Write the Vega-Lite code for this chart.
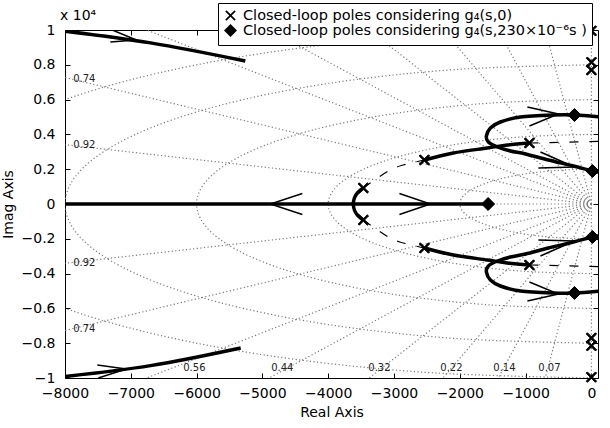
{
  "$schema": "https://vega.github.io/schema/vega-lite/v6.json",
  "width": 533,
  "height": 348,
  "autosize": {"type": "none"},
  "padding": {"left": 65, "top": 30, "right": 12, "bottom": 50},
  "config": {
    "font": "DejaVu Sans",
    "view": {"stroke": "black", "strokeWidth": 1},
    "axis": {"grid": false, "domain": false, "tickColor": "black", "tickSize": -5, "tickWidth": 1, "labelColor": "black", "labelFontSize": 14, "titleFontSize": 14, "titleFontWeight": "normal", "titleColor": "black", "labelFlush": false, "labelOverlap": false, "labelBound": false}
  },
  "title": {"text": "x 10⁴", "anchor": "start", "frame": "group", "offset": 7, "dx": -5, "dy": 27, "fontSize": 14, "fontWeight": "normal", "color": "black"},
  "datasets": {
    "circles": [
      {"id":"c2","i":0,"x":0,"y":2000},{"id":"c2","i":1,"x":-518,"y":1932},{"id":"c2","i":2,"x":-1000,"y":1732},{"id":"c2","i":3,"x":-1414,"y":1414},{"id":"c2","i":4,"x":-1732,"y":1000},{"id":"c2","i":5,"x":-1932,"y":518},{"id":"c2","i":6,"x":-2000,"y":0},{"id":"c2","i":7,"x":-1932,"y":-518},{"id":"c2","i":8,"x":-1732,"y":-1000},{"id":"c2","i":9,"x":-1414,"y":-1414},{"id":"c2","i":10,"x":-1000,"y":-1732},{"id":"c2","i":11,"x":-518,"y":-1932},{"id":"c2","i":12,"x":0,"y":-2000},
      {"id":"c4","i":0,"x":0,"y":4000},{"id":"c4","i":1,"x":-1035,"y":3864},{"id":"c4","i":2,"x":-2000,"y":3464},{"id":"c4","i":3,"x":-2828,"y":2828},{"id":"c4","i":4,"x":-3464,"y":2000},{"id":"c4","i":5,"x":-3864,"y":1035},{"id":"c4","i":6,"x":-4000,"y":0},{"id":"c4","i":7,"x":-3864,"y":-1035},{"id":"c4","i":8,"x":-3464,"y":-2000},{"id":"c4","i":9,"x":-2828,"y":-2828},{"id":"c4","i":10,"x":-2000,"y":-3464},{"id":"c4","i":11,"x":-1035,"y":-3864},{"id":"c4","i":12,"x":0,"y":-4000},
      {"id":"c6","i":0,"x":0,"y":6000},{"id":"c6","i":1,"x":-1553,"y":5796},{"id":"c6","i":2,"x":-3000,"y":5196},{"id":"c6","i":3,"x":-4243,"y":4243},{"id":"c6","i":4,"x":-5196,"y":3000},{"id":"c6","i":5,"x":-5796,"y":1553},{"id":"c6","i":6,"x":-6000,"y":0},{"id":"c6","i":7,"x":-5796,"y":-1553},{"id":"c6","i":8,"x":-5196,"y":-3000},{"id":"c6","i":9,"x":-4243,"y":-4243},{"id":"c6","i":10,"x":-3000,"y":-5196},{"id":"c6","i":11,"x":-1553,"y":-5796},{"id":"c6","i":12,"x":0,"y":-6000},
      {"id":"c8","i":0,"x":0,"y":8000},{"id":"c8","i":1,"x":-2071,"y":7727},{"id":"c8","i":2,"x":-4000,"y":6928},{"id":"c8","i":3,"x":-5657,"y":5657},{"id":"c8","i":4,"x":-6928,"y":4000},{"id":"c8","i":5,"x":-7727,"y":2071},{"id":"c8","i":6,"x":-8000,"y":0},{"id":"c8","i":7,"x":-7727,"y":-2071},{"id":"c8","i":8,"x":-6928,"y":-4000},{"id":"c8","i":9,"x":-5657,"y":-5657},{"id":"c8","i":10,"x":-4000,"y":-6928},{"id":"c8","i":11,"x":-2071,"y":-7727},{"id":"c8","i":12,"x":0,"y":-8000},
      {"id":"c10","i":0,"x":0,"y":10000},{"id":"c10","i":1,"x":-2588,"y":9659},{"id":"c10","i":2,"x":-5000,"y":8660},{"id":"c10","i":3,"x":-7071,"y":7071},{"id":"c10","i":4,"x":-8660,"y":5000},{"id":"c10","i":5,"x":-9659,"y":2588},{"id":"c10","i":6,"x":-10000,"y":0},{"id":"c10","i":7,"x":-9659,"y":-2588},{"id":"c10","i":8,"x":-8660,"y":-5000},{"id":"c10","i":9,"x":-7071,"y":-7071},{"id":"c10","i":10,"x":-5000,"y":-8660},{"id":"c10","i":11,"x":-2588,"y":-9659},{"id":"c10","i":12,"x":0,"y":-10000}
    ],
    "rays": [
      {"id":"z07p","i":0,"x":0,"y":0},{"id":"z07p","i":1,"x":-1750,"y":24939},
      {"id":"z07n","i":0,"x":0,"y":0},{"id":"z07n","i":1,"x":-1750,"y":-24939},
      {"id":"z14p","i":0,"x":0,"y":0},{"id":"z14p","i":1,"x":-3500,"y":24754},
      {"id":"z14n","i":0,"x":0,"y":0},{"id":"z14n","i":1,"x":-3500,"y":-24754},
      {"id":"z22p","i":0,"x":0,"y":0},{"id":"z22p","i":1,"x":-5500,"y":24387},
      {"id":"z22n","i":0,"x":0,"y":0},{"id":"z22n","i":1,"x":-5500,"y":-24387},
      {"id":"z32p","i":0,"x":0,"y":0},{"id":"z32p","i":1,"x":-8000,"y":23685},
      {"id":"z32n","i":0,"x":0,"y":0},{"id":"z32n","i":1,"x":-8000,"y":-23685},
      {"id":"z44p","i":0,"x":0,"y":0},{"id":"z44p","i":1,"x":-11000,"y":22450},
      {"id":"z44n","i":0,"x":0,"y":0},{"id":"z44n","i":1,"x":-11000,"y":-22450},
      {"id":"z56p","i":0,"x":0,"y":0},{"id":"z56p","i":1,"x":-14000,"y":20712},
      {"id":"z56n","i":0,"x":0,"y":0},{"id":"z56n","i":1,"x":-14000,"y":-20712},
      {"id":"z74p","i":0,"x":0,"y":0},{"id":"z74p","i":1,"x":-18500,"y":16815},
      {"id":"z74n","i":0,"x":0,"y":0},{"id":"z74n","i":1,"x":-18500,"y":-16815},
      {"id":"z92p","i":0,"x":0,"y":0},{"id":"z92p","i":1,"x":-23000,"y":9798},
      {"id":"z92n","i":0,"x":0,"y":0},{"id":"z92n","i":1,"x":-23000,"y":-9798},
      {"id":"z100","i":0,"x":0,"y":0},{"id":"z100","i":1,"x":-25000,"y":0},
      {"id":"z0p","i":0,"x":0,"y":0},{"id":"z0p","i":1,"x":0,"y":25000},
      {"id":"z0n","i":0,"x":0,"y":0},{"id":"z0n","i":1,"x":0,"y":-25000}
    ],
    "thick": [
      {"id":"t1a","i":0,"x":-8100,"y":9980},{"id":"t1a","i":1,"x":-6700,"y":9260},{"id":"t1a","i":2,"x":-5260,"y":8218},
      {"id":"t1b","i":0,"x":-8100,"y":-9960},{"id":"t1b","i":1,"x":-6700,"y":-9290},{"id":"t1b","i":2,"x":-5330,"y":-8276},
      {"id":"t2","i":0,"x":-8100,"y":0},{"id":"t2","i":1,"x":-1570,"y":0},
      {"id":"t3","i":0,"x":-3466,"y":920},{"id":"t3","i":1,"x":-3557,"y":632},{"id":"t3","i":2,"x":-3602,"y":345},{"id":"t3","i":3,"x":-3618,"y":0},{"id":"t3","i":4,"x":-3602,"y":-345},{"id":"t3","i":5,"x":-3557,"y":-632},{"id":"t3","i":6,"x":-3466,"y":-920},
      {"id":"t4u","i":0,"x":-2538,"y":2529},{"id":"t4u","i":1,"x":-2098,"y":2931},{"id":"t4u","i":2,"x":-1581,"y":3218},{"id":"t4u","i":3,"x":-1277,"y":3391},{"id":"t4u","i":4,"x":-942,"y":3506},
      {"id":"t4d","i":0,"x":-2538,"y":-2529},{"id":"t4d","i":1,"x":-2098,"y":-2931},{"id":"t4d","i":2,"x":-1581,"y":-3218},{"id":"t4d","i":3,"x":-1277,"y":-3391},{"id":"t4d","i":4,"x":-942,"y":-3506},
      {"id":"t5u","i":0,"x":137,"y":5000},{"id":"t5u","i":1,"x":-258,"y":5115},{"id":"t5u","i":2,"x":-578,"y":5115},{"id":"t5u","i":3,"x":-1079,"y":5000},{"id":"t5u","i":4,"x":-1383,"y":4713},{"id":"t5u","i":5,"x":-1535,"y":4368},{"id":"t5u","i":6,"x":-1596,"y":3908},{"id":"t5u","i":7,"x":-1566,"y":3563},{"id":"t5u","i":8,"x":-1429,"y":3276},{"id":"t5u","i":9,"x":-1231,"y":3046},{"id":"t5u","i":10,"x":-1003,"y":2874},{"id":"t5u","i":11,"x":-654,"y":2529},{"id":"t5u","i":12,"x":-274,"y":2184},{"id":"t5u","i":13,"x":15,"y":1897},{"id":"t5u","i":14,"x":137,"y":1839},
      {"id":"t5d","i":0,"x":137,"y":-5000},{"id":"t5d","i":1,"x":-258,"y":-5115},{"id":"t5d","i":2,"x":-578,"y":-5115},{"id":"t5d","i":3,"x":-1079,"y":-5000},{"id":"t5d","i":4,"x":-1383,"y":-4713},{"id":"t5d","i":5,"x":-1535,"y":-4368},{"id":"t5d","i":6,"x":-1596,"y":-3908},{"id":"t5d","i":7,"x":-1566,"y":-3563},{"id":"t5d","i":8,"x":-1429,"y":-3276},{"id":"t5d","i":9,"x":-1231,"y":-3046},{"id":"t5d","i":10,"x":-1003,"y":-2874},{"id":"t5d","i":11,"x":-654,"y":-2529},{"id":"t5d","i":12,"x":-274,"y":-2184},{"id":"t5d","i":13,"x":15,"y":-1897},{"id":"t5d","i":14,"x":137,"y":-1839}
    ],
    "dashed": [
      {"id":"d1u","i":0,"x":-3466,"y":920},{"id":"d1u","i":1,"x":-3086,"y":1897},{"id":"d1u","i":2,"x":-2858,"y":2241},{"id":"d1u","i":3,"x":-2538,"y":2529},
      {"id":"d1d","i":0,"x":-3466,"y":-920},{"id":"d1d","i":1,"x":-3086,"y":-1897},{"id":"d1d","i":2,"x":-2858,"y":-2241},{"id":"d1d","i":3,"x":-2538,"y":-2529},
      {"id":"d2u","i":0,"x":-942,"y":3506},{"id":"d2u","i":1,"x":150,"y":3600},
      {"id":"d2d","i":0,"x":-942,"y":-3506},{"id":"d2d","i":1,"x":150,"y":-3600}
    ],
    "arrows": [
      {"id":"a1","i":0,"x":-7281,"y":10000},{"id":"a1","i":1,"x":-6916,"y":9425},{"id":"a1","i":2,"x":-7311,"y":9310},
      {"id":"a2","i":0,"x":-7509,"y":-9253},{"id":"a2","i":1,"x":-7068,"y":-9483},{"id":"a2","i":2,"x":-7494,"y":-10000},
      {"id":"a3","i":0,"x":-4393,"y":600},{"id":"a3","i":1,"x":-4879,"y":0},{"id":"a3","i":2,"x":-4393,"y":-600},
      {"id":"a4","i":0,"x":-2918,"y":600},{"id":"a4","i":1,"x":-2447,"y":0},{"id":"a4","i":2,"x":-2918,"y":-600},
      {"id":"a5u","i":0,"x":-973,"y":5575},{"id":"a5u","i":1,"x":-502,"y":5172},{"id":"a5u","i":2,"x":-942,"y":4483},
      {"id":"a6u","i":0,"x":-775,"y":2988},{"id":"a6u","i":1,"x":-258,"y":2126},{"id":"a6u","i":2,"x":-806,"y":2069},
      {"id":"a5d","i":0,"x":-973,"y":-5575},{"id":"a5d","i":1,"x":-502,"y":-5172},{"id":"a5d","i":2,"x":-942,"y":-4483},
      {"id":"a6d","i":0,"x":-775,"y":-2988},{"id":"a6d","i":1,"x":-258,"y":-2126},{"id":"a6d","i":2,"x":-806,"y":-2069}
    ],
    "pts": [
      {"s":"a","x":-3466,"y":920},{"s":"a","x":-3466,"y":-920},{"s":"a","x":-2538,"y":2529},{"s":"a","x":-2538,"y":-2529},{"s":"a","x":-942,"y":3506},{"s":"a","x":-942,"y":-3506},
      {"s":"a","x":0,"y":9950},{"s":"a","x":0,"y":8150},{"s":"a","x":0,"y":7700},{"s":"a","x":0,"y":-7700},{"s":"a","x":0,"y":-8150},{"s":"a","x":0,"y":-9950},
      {"s":"b","x":-1570,"y":0},{"s":"b","x":-258,"y":5115},{"s":"b","x":-258,"y":-5115},{"s":"b","x":15,"y":1897},{"s":"b","x":15,"y":-1897}
    ],
    "labs": [
      {"t":"0.74","x":-7706,"y":7184},{"t":"0.92","x":-7706,"y":3391},{"t":"0.92","x":-7706,"y":-3391},{"t":"0.74","x":-7706,"y":-7184},
      {"t":"0.56","x":-6034,"y":-9425},{"t":"0.44","x":-4697,"y":-9425},{"t":"0.32","x":-3222,"y":-9425},{"t":"0.22","x":-2128,"y":-9425},{"t":"0.14","x":-1322,"y":-9425},{"t":"0.07","x":-638,"y":-9425}
    ]
  },
  "layer": [
    {
      "data": {"name": "circles"},
      "mark": {"type": "line", "clip": true, "interpolate": "cardinal", "color": "#7a7a7a", "strokeWidth": 1.2, "strokeDash": [1.2, 2.4]},
      "encoding": {
        "x": {"field": "x", "type": "quantitative", "scale": {"domain": [-8000, 100], "nice": false, "zero": false},
          "axis": {"orient": "bottom", "values": [-8000, -7000, -6000, -5000, -4000, -3000, -2000, -1000, 0], "format": "d", "title": "Real Axis", "labelPadding": 13, "titlePadding": 5}},
        "y": {"field": "y", "type": "quantitative", "scale": {"domain": [-10000, 10000], "nice": false, "zero": false},
          "axis": {"orient": "left", "values": [-10000, -8000, -6000, -4000, -2000, 0, 2000, 4000, 6000, 8000, 10000], "labelExpr": "format(datum.value/10000, '.1~f')", "title": "Imag Axis", "labelPadding": 15, "titlePadding": 6}},
        "detail": {"field": "id"},
        "order": {"field": "i"}
      }
    },
    {
      "data": {"name": "rays"},
      "mark": {"type": "line", "clip": true, "color": "#7a7a7a", "strokeWidth": 1.2, "strokeDash": [1.2, 2.4]},
      "encoding": {
        "x": {"field": "x", "type": "quantitative", "scale": {"domain": [-8000, 100], "nice": false, "zero": false}, "axis": null},
        "y": {"field": "y", "type": "quantitative", "scale": {"domain": [-10000, 10000], "nice": false, "zero": false}, "axis": null},
        "detail": {"field": "id"},
        "order": {"field": "i"}
      }
    },
    {
      "data": {"name": "thick"},
      "mark": {"type": "line", "clip": true, "interpolate": "cardinal", "color": "black", "strokeWidth": 3.5},
      "encoding": {
        "x": {"field": "x", "type": "quantitative", "scale": {"domain": [-8000, 100], "nice": false, "zero": false}, "axis": null},
        "y": {"field": "y", "type": "quantitative", "scale": {"domain": [-10000, 10000], "nice": false, "zero": false}, "axis": null},
        "detail": {"field": "id"},
        "order": {"field": "i"}
      }
    },
    {
      "data": {"name": "dashed"},
      "mark": {"type": "line", "clip": true, "interpolate": "cardinal", "color": "black", "strokeWidth": 1.2, "strokeDash": [9, 11]},
      "encoding": {
        "x": {"field": "x", "type": "quantitative", "scale": {"domain": [-8000, 100], "nice": false, "zero": false}, "axis": null},
        "y": {"field": "y", "type": "quantitative", "scale": {"domain": [-10000, 10000], "nice": false, "zero": false}, "axis": null},
        "detail": {"field": "id"},
        "order": {"field": "i"}
      }
    },
    {
      "data": {"name": "arrows"},
      "mark": {"type": "line", "clip": true, "color": "black", "strokeWidth": 1.5},
      "encoding": {
        "x": {"field": "x", "type": "quantitative", "scale": {"domain": [-8000, 100], "nice": false, "zero": false}, "axis": null},
        "y": {"field": "y", "type": "quantitative", "scale": {"domain": [-10000, 10000], "nice": false, "zero": false}, "axis": null},
        "detail": {"field": "id"},
        "order": {"field": "i"}
      }
    },
    {
      "data": {"name": "labs"},
      "mark": {"type": "text", "fontSize": 10, "color": "#222222", "baseline": "middle", "align": "center"},
      "encoding": {
        "x": {"field": "x", "type": "quantitative", "scale": {"domain": [-8000, 100], "nice": false, "zero": false},
          "axis": {"orient": "top", "values": [-8000, -7000, -6000, -5000, -4000, -3000, -2000, -1000, 0], "labels": false, "title": null}},
        "y": {"field": "y", "type": "quantitative", "scale": {"domain": [-10000, 10000], "nice": false, "zero": false},
          "axis": {"orient": "right", "values": [-10000, -8000, -6000, -4000, -2000, 0, 2000, 4000, 6000, 8000, 10000], "labels": false, "title": null}},
        "text": {"field": "t"}
      }
    },
    {
      "data": {"name": "pts"},
      "mark": {"type": "point", "filled": true, "clip": false, "size": 170, "fill": "black", "stroke": "black", "strokeWidth": 1, "opacity": 1},
      "encoding": {
        "x": {"field": "x", "type": "quantitative", "scale": {"domain": [-8000, 100], "nice": false, "zero": false}, "axis": null},
        "y": {"field": "y", "type": "quantitative", "scale": {"domain": [-10000, 10000], "nice": false, "zero": false}, "axis": null},
        "shape": {"field": "s", "type": "nominal",
          "scale": {"domain": ["a", "b"], "range": ["M-0.8,-0.62L-0.62,-0.8L0,-0.18L0.62,-0.8L0.8,-0.62L0.18,0L0.8,0.62L0.62,0.8L0,0.18L-0.62,0.8L-0.8,0.62L-0.18,0Z", "diamond"]},
          "legend": {"orient": "none", "legendX": 153, "legendY": -27, "title": null, "fillColor": "white", "strokeColor": "black", "padding": 5,
            "labelFontSize": 14.5, "labelColor": "black", "labelLimit": 500, "labelOffset": 5, "rowPadding": -2,
            "symbolSize": 170, "symbolStrokeWidth": 1, "symbolStrokeColor": "black", "symbolFillColor": "black",
            "encode": {"symbols": {"update": {"stroke": {"value": "black"}, "fill": {"value": "black"}, "strokeWidth": {"value": 1}}}},
            "labelExpr": "datum.value == 'a' ? 'Closed-loop poles considering g₄(s,0)' : 'Closed-loop poles considering g₄(s,230×10⁻⁶s )'"}}
      }
    }
  ],
  "resolve": {"axis": {"x": "independent", "y": "independent"}}
}
